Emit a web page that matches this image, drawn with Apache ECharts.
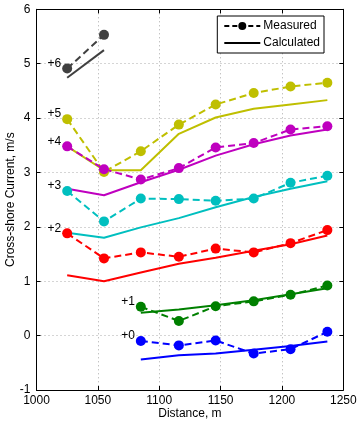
<!DOCTYPE html>
<html><head><meta charset="utf-8">
<script src="https://cdn.jsdelivr.net/npm/echarts@6/dist/echarts.min.js"></script>
<style>html,body{margin:0;padding:0;background:#fff}#c{width:362px;height:426px}</style>
</head><body><div id="c"></div>
<script>
const xMeasAll = [1025, 1055, 1085, 1116, 1146, 1177, 1207, 1237];
const xTicks = [1000, 1050, 1100, 1150, 1200, 1250];
const yTicks = [-1, 0, 1, 2, 3, 4, 5, 6];

const labels = ['+6', '+5', '+4', '+3', '+2', '+1', '+0'];
const colors = ['#404040', '#bfbf00', '#bf00bf', '#00bfbf', '#ff0000', '#008000', '#0000ff'];

// x positions per group
const x6 = [1025, 1055];
const xFull = xMeasAll;
const xShort = [1085, 1116, 1146, 1177, 1207, 1237];

const meas6 = [4.91, 5.53];
const calc6 = [4.74, 5.25];
const meas5 = [3.98, 3.01, 3.39, 3.88, 4.25, 4.46, 4.58, 4.65];
const calc5 = [3.48, 3.04, 3.04, 3.71, 4.01, 4.17, 4.25, 4.33];
const meas4 = [3.48, 3.06, 2.87, 3.08, 3.46, 3.54, 3.79, 3.85];
const calc4 = [2.70, 2.58, 2.82, 3.05, 3.31, 3.52, 3.68, 3.79];
const meas3 = [2.66, 2.10, 2.52, 2.51, 2.48, 2.52, 2.81, 2.94];
const calc3 = [1.89, 1.80, 1.99, 2.16, 2.36, 2.55, 2.70, 2.84];
const meas2 = [1.88, 1.42, 1.53, 1.45, 1.60, 1.53, 1.70, 1.94];
const calc2 = [1.11, 1.00, 1.16, 1.32, 1.43, 1.56, 1.68, 1.84];
const meas1 = [0.53, 0.27, 0.54, 0.63, 0.75, 0.92];
const calc1 = [0.42, 0.48, 0.56, 0.65, 0.76, 0.87];
const meas0 = [-0.10, -0.18, -0.09, -0.33, -0.25, 0.07];
const calc0 = [-0.44, -0.36, -0.33, -0.26, -0.19, -0.11];

const groups = [
  [x6, meas6, calc6],
  [xFull, meas5, calc5],
  [xFull, meas4, calc4],
  [xFull, meas3, calc3],
  [xFull, meas2, calc2],
  [xShort, meas1, calc1],
  [xShort, meas0, calc0]
];

const font = 'Liberation Sans, Arial, sans-serif';
const series = [];
groups.forEach((g, i) => {
  const [xs, m, c] = g;
  series.push({
    type: 'line', name: 'm' + i, silent: true,
    data: xs.map((x, k) => ({
      value: [x, m[k]],
      label: k === 0 ? {show: true, formatter: labels[i], position: 'left', distance: 1, offset: [0, -5], color: '#000', fontSize: 12, fontFamily: font} : {show: false}
    })),
    symbol: 'circle', symbolSize: 10,
    itemStyle: {color: colors[i]},
    lineStyle: {color: colors[i], width: 2, type: [7, 4]},
    z: 3
  });
  series.push({
    type: 'line', name: 'c' + i, silent: true,
    data: xs.map((x, k) => [x, c[k]]),
    showSymbol: false, symbol: 'none',
    lineStyle: {color: colors[i], width: 2},
    z: 2
  });
});
series.push({type: 'line', name: 'Measured', data: [], symbol: 'circle', symbolSize: 9,
  itemStyle: {color: '#000'}, lineStyle: {color: '#000', width: 2, type: [5, 3]}});
series.push({type: 'line', name: 'Calculated', data: [], symbol: 'circle',
  itemStyle: {color: 'rgba(0,0,0,0)', borderWidth: 0, borderColor: 'rgba(0,0,0,0)'},
  lineStyle: {color: '#000', width: 2}});

const axisCommon = {
  axisLine: {show: true, onZero: false, lineStyle: {color: '#000', width: 1}},
  axisTick: {show: true, inside: true, length: 4, lineStyle: {color: '#000'}},
};

const chart = echarts.init(document.getElementById('c'), null, {renderer: 'canvas'});
chart.setOption({
  animation: false,
  backgroundColor: '#fff',
  grid: {left: 36.5, right: 18.7, top: 9.3, bottom: 36, containLabel: false, outerBoundsMode: 'none'},
  legend: {
    data: ['Measured', 'Calculated'],
    orient: 'vertical', right: 38, top: 16,
    itemWidth: 36, itemHeight: 10, itemGap: 5,
    padding: [4, 4, 4, 6],
    borderColor: '#000', borderWidth: 1, borderRadius: 0,
    backgroundColor: '#fff',
    textStyle: {color: '#000', fontSize: 12, fontFamily: font, padding: [0,0,0,-2]},
    selectedMode: false
  },
  xAxis: [
    Object.assign({}, axisCommon, {
      type: 'value', min: xTicks[0], max: xTicks[xTicks.length - 1], interval: 50,
      position: 'bottom',
      name: 'Distance, m', nameLocation: 'middle', nameGap: 18, nameMoveOverlap: false,
      nameTextStyle: {color: '#000', fontSize: 12, fontFamily: font},
      axisLabel: {color: '#000', fontSize: 12, fontFamily: font, margin: 5, formatter: v => String(v)},
      splitLine: {show: true, lineStyle: {color: '#aaa', type: [1, 3], width: 1}}
    }),
    Object.assign({}, axisCommon, {
      type: 'value', min: xTicks[0], max: xTicks[xTicks.length - 1], interval: 50,
      position: 'top', axisLabel: {show: false}, splitLine: {show: false}
    })
  ],
  yAxis: [
    Object.assign({}, axisCommon, {
      type: 'value', min: yTicks[0], max: yTicks[yTicks.length - 1], interval: 1,
      position: 'left',
      name: 'Cross-shore Current, m/s', nameLocation: 'middle', nameGap: 20, nameMoveOverlap: false,
      nameTextStyle: {color: '#000', fontSize: 12, fontFamily: font},
      axisLabel: {color: '#000', fontSize: 12, fontFamily: font, margin: 6, formatter: v => String(v)},
      splitLine: {show: true, lineStyle: {color: '#aaa', type: [1, 3], width: 1}}
    }),
    Object.assign({}, axisCommon, {
      type: 'value', min: yTicks[0], max: yTicks[yTicks.length - 1], interval: 1,
      position: 'right', axisLabel: {show: false}, splitLine: {show: false}
    })
  ],
  series: series
});
</script></body></html>
